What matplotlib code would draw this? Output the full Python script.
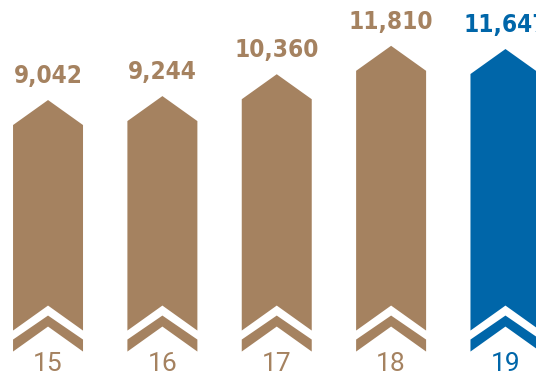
import matplotlib.pyplot as plt
from matplotlib import font_manager
from matplotlib.patches import Polygon

# Данные
years = ['15', '16', '17', '18', '19']
values = [9042, 9244, 10360, 11810, 11647]
colors = ['#a58260', '#a58260', '#a58260', '#a58260', '#0066a9']

# Узкий жирный шрифт для подписей значений
names = {f.name for f in font_manager.fontManager.ttflist}
narrow = [n for n in ['Liberation Sans Narrow', 'DejaVu Sans Condensed'] if n in names]
label_family = narrow + ['DejaVu Sans']

fig = plt.figure(figsize=(5.36, 3.78), dpi=100)
ax = fig.add_axes([0, 0, 1, 1])
ax.set_xlim(-0.42, 4.267)
ax.set_ylim(-5150, 14150)
ax.axis('off')

u = (14150 + 5150) / 378   # единиц данных на пиксель
hw = 0.306                 # полуширина стрелки
base = -3800               # низ стрелок

for i, (year, v, c) in enumerate(zip(years, values, colors)):
    x0, x1 = i - hw, i + hw
    # корпус стрелки с вырезом снизу
    body = [(x0, base + 21 * u), (x0, v - 25 * u), (i, v), (x1, v - 25 * u),
            (x1, base + 21 * u), (i, base + 46 * u)]
    # шеврон внизу
    chev = [(x0, base), (x0, base + 12 * u), (i, base + 36 * u),
            (x1, base + 12 * u), (x1, base), (i, base + 25 * u)]
    ax.add_patch(Polygon(body, closed=True, facecolor=c, lw=0))
    ax.add_patch(Polygon(chev, closed=True, facecolor=c, lw=0))

    ax.annotate(f'{v:,}', (i, v), xytext=(0, 17.5), textcoords='offset points',
                ha='center', va='center', fontsize=17.5, fontweight='bold',
                fontstretch='condensed', family=label_family, color=c)
    ax.text(i, base - 12 * u, year, ha='center', va='center', fontsize=19,
            fontweight='normal', family=['Roboto', 'DejaVu Sans'], color=c)

plt.savefig('out.png', dpi=100)
